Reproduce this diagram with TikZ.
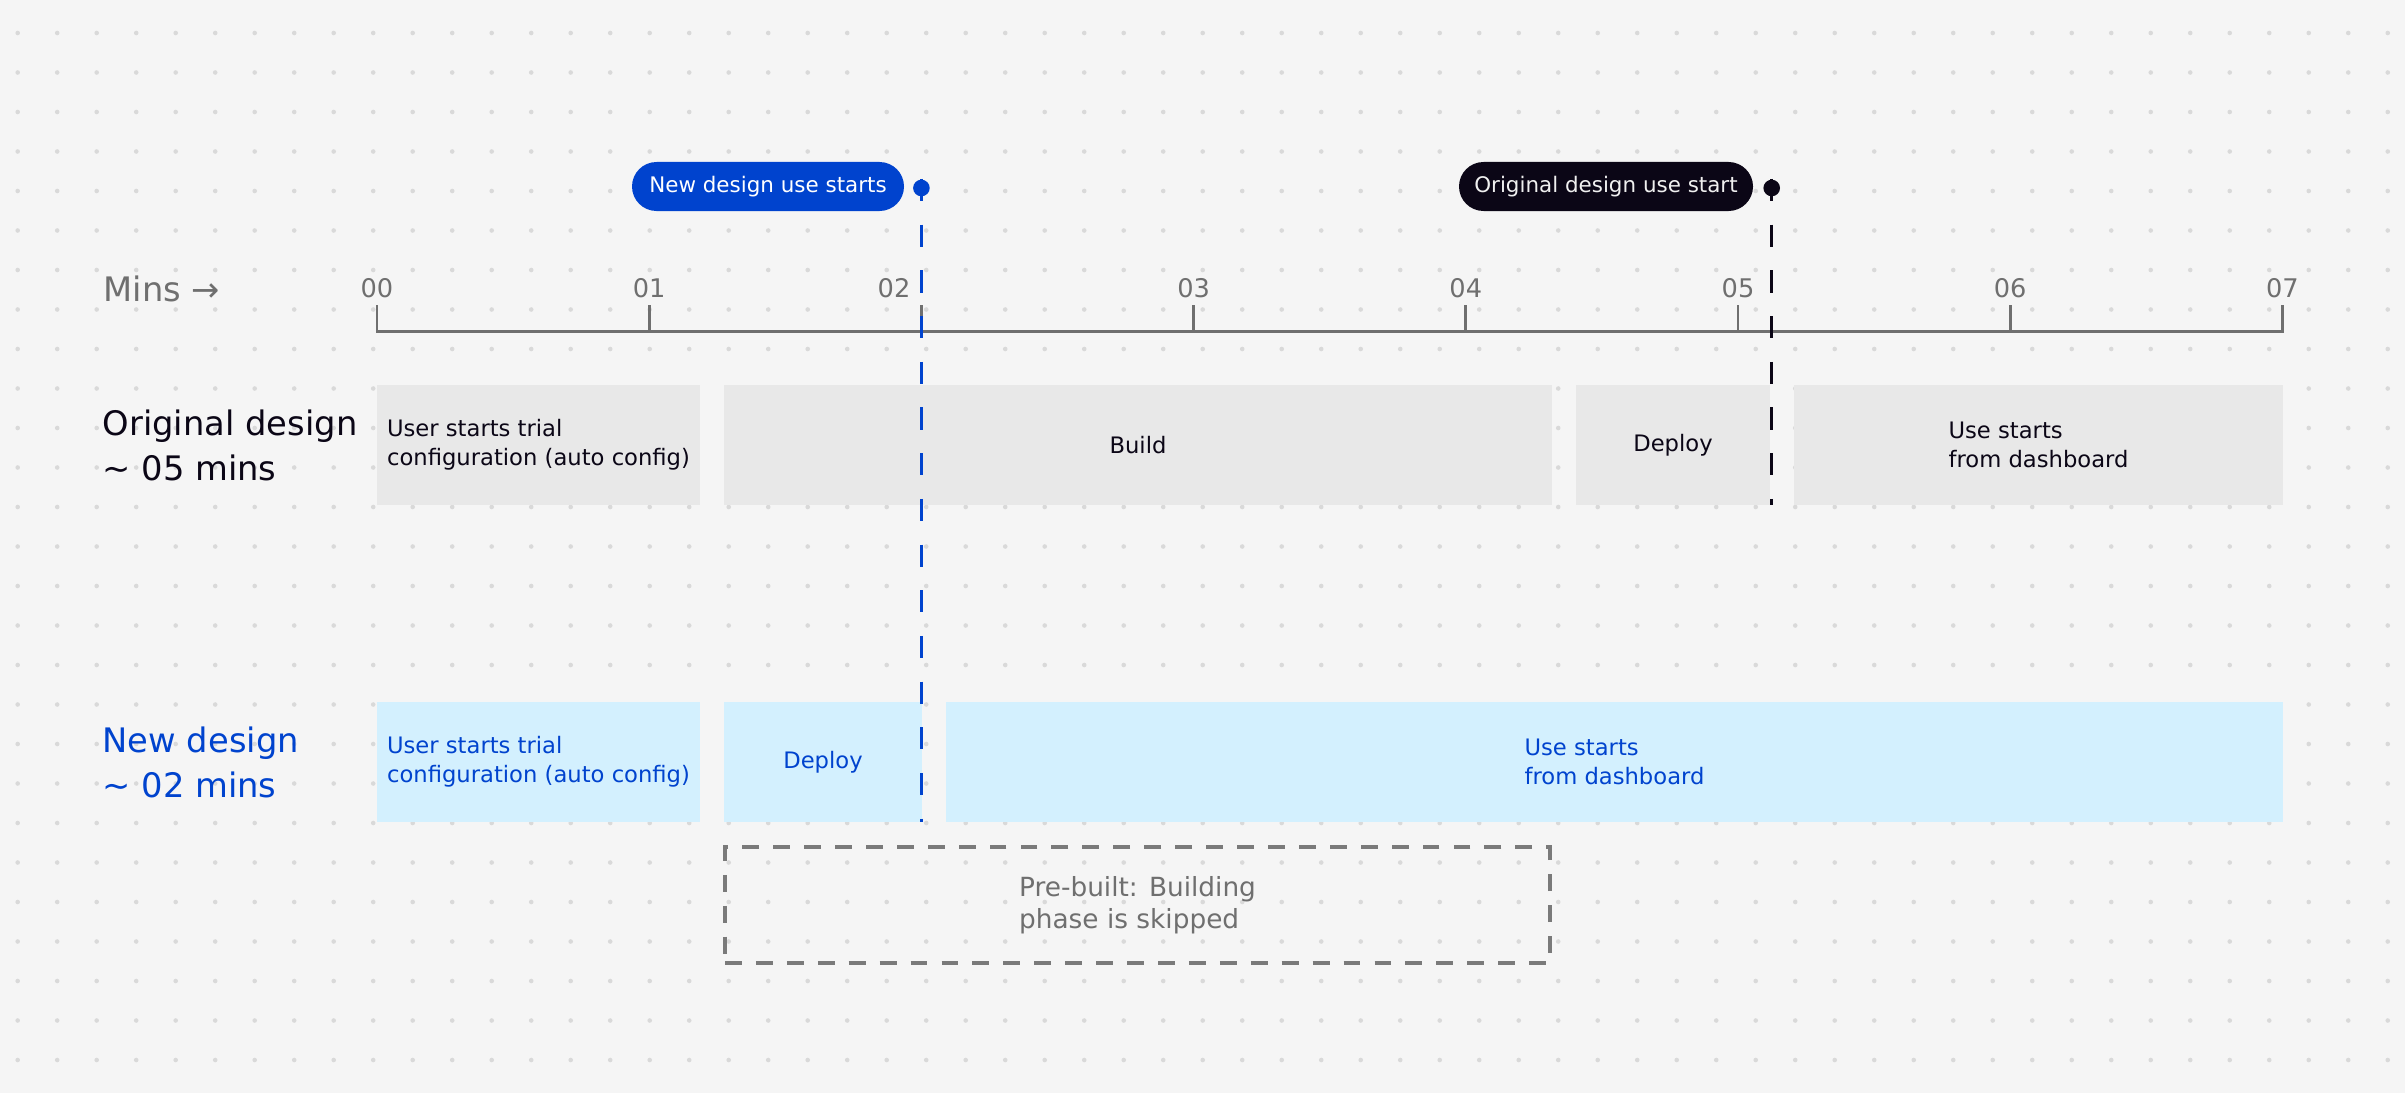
\documentclass[tikz,border=0pt]{standalone}
\usepackage{fontspec}
\setmainfont{DejaVu Sans}

\definecolor{bg}{HTML}{F5F5F5}
\definecolor{dotgray}{HTML}{D9D9D9}
\definecolor{axisgray}{HTML}{6F6F6F}
\definecolor{ink}{HTML}{0B0616}
\definecolor{ibmblue}{HTML}{0043CE}
\definecolor{boxgray}{HTML}{E8E8E8}
\definecolor{boxcyan}{HTML}{D3F0FE}
\definecolor{dashgray}{HTML}{7A7A7A}

\begin{document}
\begin{tikzpicture}[
    oldbox/.style={fill=boxgray, text=ink, minimum height=1.2cm, inner sep=0pt, align=left, font=\fontsize{6.45}{8.25}\selectfont},
    newbox/.style={oldbox, fill=boxcyan, text=ibmblue},
    rowlabel/.style={anchor=west, inner sep=0pt, align=left, font=\fontsize{9.6}{12.8}\selectfont},
    ticklabel/.style={anchor=base, inner sep=0pt, text=axisgray, font=\fontsize{7.3}{8.5}\selectfont},
    pill/.style={rounded corners=2.45mm, minimum height=0.49cm, inner sep=0pt, font=\fontsize{6.1}{7}\selectfont},
    marker/.style={circle, inner sep=0pt, minimum size=0.166cm},
    axisline/.style={axisgray, line width=0.77pt},
    markline/.style={line width=0.8pt, dash pattern=on 6.3pt off 6.7pt}]

    \fill[bg] (0,0) rectangle (24.05,10.93);
    \foreach \i in {0,...,60}
      \foreach \j in {0,...,26}
        \fill[dotgray] (0.177+0.395*\i,10.60-0.395*\j) circle (0.023);

    \foreach \k in {0,...,7} {
      \coordinate (a\k) at (3.77+2.722*\k,7.613);
      \coordinate (t\k) at (3.77+2.722*\k,7.88);
    }
    \draw[axisline] (t0) -- (a0) -- (a7) -- (t7);
    \foreach \k in {1,...,6}
      \draw[axisline] (a\k) -- (t\k);

    \node[rowlabel, text=axisgray, anchor=base west] (mins) at (1.03,7.915) {Mins →};
    \node[ticklabel] (l0) at (3.77,7.955) {00};
    \node[ticklabel] (l1) at (6.492,7.955) {01};
    \node[ticklabel] (l2) at (8.94,7.955) {02};
    \node[ticklabel] (l3) at (11.936,7.955) {03};
    \node[ticklabel] (l4) at (14.658,7.955) {04};
    \node[ticklabel] (l5) at (17.38,7.955) {05};
    \node[ticklabel] (l6) at (20.102,7.955) {06};
    \node[ticklabel] (l7) at (22.824,7.955) {07};

    \node[rowlabel, text=ink] (oldrow) at (1.02,6.48) {Original design\\\textasciitilde{} 05 mins};
    \node[oldbox, minimum width=3.23cm] (o1) at (5.385,6.48) {User starts trial\\configuration (auto config)};
    \node[oldbox, minimum width=8.28cm] (o2) at (11.38,6.48) {Build};
    \node[oldbox, minimum width=1.94cm] (o3) at (16.73,6.48) {Deploy};
    \node[oldbox, minimum width=4.89cm] (o4) at (20.385,6.48) {Use starts\\from dashboard};

    \node[rowlabel, text=ibmblue] (newrow) at (1.02,3.31) {New design\\\textasciitilde{} 02 mins};
    \node[newbox, minimum width=3.23cm] (n1) at (5.385,3.31) {User starts trial\\configuration (auto config)};
    \node[newbox, minimum width=1.98cm] (n2) at (8.23,3.31) {Deploy};
    \node[newbox, minimum width=13.37cm] (n3) at (16.145,3.31) {Use starts\\from dashboard};

    \node[draw=dashgray, line width=1pt, dash pattern=on 4.8pt off 4pt, minimum width=8.25cm, minimum height=1.16cm, inner sep=0pt, text=axisgray, align=left, font=\fontsize{7.5}{9.1}\selectfont] (skip) at (11.375,1.88) {Pre-built: Building\\phase is skipped};

    \node[pill, fill=ibmblue, text=white, minimum width=2.72cm] (newtag) at (7.68,9.065) {New design use starts};
    \node[pill, fill=ink, text=white!94!black, minimum width=2.94cm] (oldtag) at (16.06,9.065) {Original design use start};

    \node[marker, fill=ibmblue] (newdot) at (9.214,9.05) {};
    \node[marker, fill=ink] (olddot) at (17.717,9.05) {};
    \coordinate (newend) at (9.214,2.71);
    \coordinate (oldend) at (17.717,5.88);
    \draw[markline, ibmblue] (newdot.north) -- (newend);
    \draw[markline, ink] (olddot.north) -- (oldend);
\end{tikzpicture}
\end{document}
